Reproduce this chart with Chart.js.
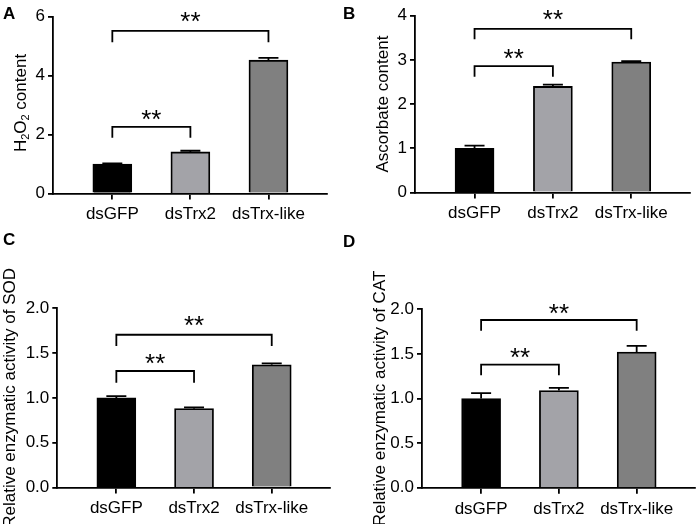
<!DOCTYPE html>
<html>
<head>
<meta charset="utf-8">
<script src="https://cdn.jsdelivr.net/npm/chart.js@4.4.0/dist/chart.umd.min.js"></script>
<style>
  body { margin: 0; background: #fff; }
  #page { position: relative; width: 699px; height: 524px; overflow: hidden; }
  canvas { position: absolute; }
  .tag { position: absolute; font: bold 17px "Liberation Sans", Arial, sans-serif; line-height: 1; color: #000; }
</style>
</head>
<body>
<div id="page">
  <canvas id="chartA" width="349" height="262" style="left:0;top:0"></canvas>
  <canvas id="chartB" width="350" height="262" style="left:349px;top:0"></canvas>
  <canvas id="chartC" width="349" height="262" style="left:0;top:262px"></canvas>
  <canvas id="chartD" width="350" height="262" style="left:349px;top:262px"></canvas>
  <div class="tag" style="left:3px;top:5px">A</div>
  <div class="tag" style="left:343px;top:5px">B</div>
  <div class="tag" style="left:3px;top:231px">C</div>
  <div class="tag" style="left:343px;top:233px">D</div>
</div>
<script>
// groups on the x axis
const categories = ['dsGFP', 'dsTrx2', 'dsTrx-like'];

// A - H2O2
const h2o2Means = [1.00, 1.41, 4.52];
const h2o2Errors = [0.02, 0.04, 0.08];
const h2o2Ticks = [0, 2, 4, 6];
// [from, to, bracket line, leg end, stars]
const h2o2Sig = [[1, 2, 2.26, 1.89, 2.73], [1, 3, 5.51, 5.13, 6.05]];

// B - ascorbate
const ascMeans = [1.00, 2.40, 2.95];
const ascErrors = [0.06, 0.04, 0.02];
const ascTicks = [0, 1, 2, 3, 4];
const ascSig = [[1, 2, 2.86, 2.62, 3.17], [1, 3, 3.70, 3.47, 4.05]];

// C - SOD
const sodMeans = [1.00, 0.88, 1.37];
const sodErrors = [0.02, 0.015, 0.015];
const sodTicks = [0, 0.5, 1.0, 1.5, 2.0];
const sodSig = [[1, 2, 1.30, 1.17, 1.46], [1, 3, 1.705, 1.58, 1.88]];

// D - CAT
const catMeans = [1.00, 1.09, 1.52];
const catErrors = [0.06, 0.03, 0.07];
const catTicks = [0, 0.5, 1.0, 1.5, 2.0];
const catSig = [[1, 2, 1.38, 1.26, 1.53], [1, 3, 1.88, 1.76, 2.03]];

const barColors = ['#000000', '#a3a3a8', '#808080'];
const FONT = '"Liberation Sans", Arial, sans-serif';

// title with real subscripts for panel A: [text, subscript?]
const h2o2TitleParts = [['H', false], ['2', true], ['O', false], ['2', true], [' content', false]];

function makePanel(id, means, errors, ticks, sig, title, box, decimals) {
  const ctx = document.getElementById(id);
  const parts = Array.isArray(title) ? title : null;

  // error bars + significance brackets
  const marks = {
    id: 'marks_' + id,
    afterDatasetsDraw(chart) {
      const c = chart.ctx;
      const x = chart.scales.x, y = chart.scales.y;
      c.save();
      c.strokeStyle = '#000';
      c.fillStyle = '#000';
      c.lineWidth = 1.8;
      means.forEach((m, i) => {
        const px = x.getPixelForValue(i + 1);
        const y0 = y.getPixelForValue(m);
        const y1 = y.getPixelForValue(m + errors[i]);
        c.beginPath();
        c.moveTo(px, y0); c.lineTo(px, y1);
        c.moveTo(px - 10, y1); c.lineTo(px + 10, y1);
        c.stroke();
      });
      sig.forEach(s => {
        const xa = x.getPixelForValue(s[0]), xb = x.getPixelForValue(s[1]);
        const yt = y.getPixelForValue(s[2]), yl = y.getPixelForValue(s[3]);
        c.beginPath();
        c.moveTo(xa, yl); c.lineTo(xa, yt); c.lineTo(xb, yt); c.lineTo(xb, yl);
        c.stroke();
        c.font = '26px ' + FONT;
        c.textAlign = 'center';
        c.textBaseline = 'alphabetic';
        c.fillText('**', (xa + xb) / 2, y.getPixelForValue(s[4]) + 0.573 * 26);
      });

      // rotated title built from pieces (only when subscripts are needed)
      if (parts) {
        const cy = (y.top + y.bottom) / 2 - 2;
        const cx = box.tp + 10.2;
        c.translate(cx, cy);
        c.rotate(-Math.PI / 2);
        c.textAlign = 'left';
        let total = 0;
        parts.forEach(p => { c.font = (p[1] ? 11 : 17) + 'px ' + FONT; total += c.measureText(p[0]).width; });
        let xx = -total / 2;
        parts.forEach(p => {
          c.font = (p[1] ? 11 : 17) + 'px ' + FONT;
          c.fillText(p[0], xx, p[1] ? 9 : 6);
          xx += c.measureText(p[0]).width;
        });
      }
      c.restore();
    }
  };

  return new Chart(ctx, {
    type: 'bar',
    data: {
      datasets: [{
        data: means.map((m, i) => ({x: i + 1, y: m})),
        backgroundColor: barColors,
        borderColor: '#000',
        borderWidth: 1.8,
        borderSkipped: 'bottom',
        barThickness: 39
      }]
    },
    options: {
      responsive: false,
      animation: false,
      events: [],
      layout: { padding: { left: 0, top: box.top, right: box.right, bottom: 0 } },
      plugins: { legend: { display: false }, tooltip: { enabled: false } },
      scales: {
        x: {
          type: 'linear',
          min: 0.24,
          max: 3.75,
          offset: false,
          afterBuildTicks: s => { s.ticks = categories.map((c, i) => ({value: i + 1})); },
          afterFit: s => { s.height = box.xh; },
          ticks: {
            callback: v => categories[v - 1],
            color: '#000',
            font: { family: FONT, size: 17 },
            padding: 5,
            maxRotation: 0
          },
          grid: { offset: false, drawOnChartArea: false, tickLength: 6, color: '#000', lineWidth: 1.8 },
          border: { display: true, color: '#000', width: 1.8 }
        },
        y: {
          min: ticks[0],
          max: ticks[ticks.length - 1],
          afterBuildTicks: s => { s.ticks = ticks.map(v => ({value: v})); },
          afterFit: s => { s.width = box.left; },
          ticks: {
            callback: v => v.toFixed(decimals),
            color: '#000',
            font: { family: FONT, size: 17 },
            padding: 3
          },
          title: {
            display: !parts,
            text: parts ? '' : title,
            color: '#000',
            font: { family: FONT, size: 17 },
            padding: { top: box.tp, bottom: 0 }
          },
          grid: { drawOnChartArea: false, tickLength: 5, color: '#000', lineWidth: 1.8 },
          border: { display: true, color: '#000', width: 1.8 }
        }
      }
    },
    plugins: [marks]
  });
}

window.onload = function() {
  makePanel('chartA', h2o2Means, h2o2Errors, h2o2Ticks, h2o2Sig, h2o2TitleParts,
    {left: 53, right: 22, top: 16.5, xh: 68.5, tp: 9.8}, 0);
  makePanel('chartB', ascMeans, ascErrors, ascTicks, ascSig, 'Ascorbate content',
    {left: 66, right: 9, top: 15.7, xh: 69.5, tp: 24.3}, 0);
  makePanel('chartC', sodMeans, sodErrors, sodTicks, sodSig, 'Relative enzymatic activity of SOD',
    {left: 57.3, right: 19, top: 46.3, xh: 36.5, tp: 0}, 1);
  makePanel('chartD', catMeans, catErrors, catTicks, catSig, 'Relative enzymatic activity of CAT',
    {left: 73, right: 4, top: 47.3, xh: 36.3, tp: 20.8}, 1);
}; // end window onload
</script>
</body>
</html>
